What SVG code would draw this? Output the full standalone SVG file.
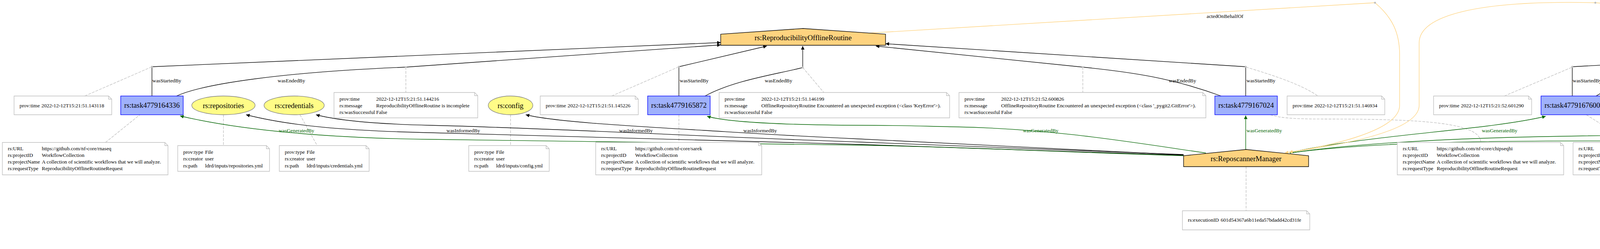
<svg xmlns="http://www.w3.org/2000/svg" width="6606" height="638" viewBox="0 0 6606 638">
<style>
text{font-family:"Liberation Serif","Times New Roman",serif;fill:#000}
.nl{font-size:18.67px;text-anchor:middle}
.t{font-size:13.33px}
.el{font-size:13.33px;text-anchor:middle}
.gl{fill:#006400}
.act{fill:#9FB1FC;stroke:#0000FF;stroke-width:1.33}
.ent{fill:#FFFC87;stroke:#808080;stroke-width:1.33}
.agt{fill:#FED37F;stroke:#000;stroke-width:1.33}
.note{fill:#fff;stroke:#bebebe;stroke-width:1.33}
.fold{fill:none;stroke:#bebebe;stroke-width:1.33}
.e{fill:none;stroke:#000;stroke-width:1.33}
.eg{fill:none;stroke:#006400;stroke-width:1.33}
.eo{fill:none;stroke:#FED37F;stroke-width:1.33}
.ed{fill:none;stroke:#bebebe;stroke-width:1.33;stroke-dasharray:7,3}
.pt{fill:#bebebe}
</style>
<defs>
<marker id="ab" viewBox="0 0 10 10" refX="10" refY="5" markerWidth="13" markerHeight="9" markerUnits="userSpaceOnUse" orient="auto"><path d="M0,0L10,5L0,10z" fill="#000"/></marker>
<marker id="ag" viewBox="0 0 10 10" refX="10" refY="5" markerWidth="13" markerHeight="9" markerUnits="userSpaceOnUse" orient="auto"><path d="M0,0L10,5L0,10z" fill="#006400"/></marker>
<marker id="ao" viewBox="0 0 10 10" refX="10" refY="5" markerWidth="13" markerHeight="9" markerUnits="userSpaceOnUse" orient="auto"><path d="M0,0L10,5L0,10z" fill="#FED37F"/></marker>
</defs>
<rect width="6606" height="638" fill="#fff"/>

<g id="edges">
<path class="ed" d="M217,246L389,171"/>
<path class="ed" d="M270,365L358,294"/>
<path class="ed" d="M572,294L572,373"/>
<path class="ed" d="M768,294L812,373"/>
<path class="ed" d="M1307,294L1307,373"/>
<path class="ed" d="M1039,172L1039,237"/>
<path class="ed" d="M1566,246L1738,171"/>
<path class="ed" d="M1738,294L1738,365"/>
<path class="ed" d="M2055,173L2109,237"/>
<path class="ed" d="M2772,172L2772,237"/>
<path class="ed" d="M3190,172C3250,190 3330,215 3374,246"/>
<path class="ed" d="M3252,294C3280,302 3300,305 3400,305C3650,305 3790,315 3791,365"/>
<path class="ed" d="M3190,427L3190,540"/>
<path class="ed" d="M3851,246L4025,172"/>
<path class="ed" d="M4061,294L4173,365"/>
<path class="ed" d="M4300,246C4360,200 4500,185 4820,172"/>
<path class="ed" d="M4849,172L4762,237"/>
<path class="ed" d="M5138,294L5138,365"/>
<path class="ed" d="M5337,173L5379,237"/>
<path class="ed" d="M5551,431L5551,497"/>
<path class="ed" d="M5786,172L5786,237"/>
<path class="ed" d="M6047,294L6047,365"/>
<path class="ed" d="M6047,172L6230,246"/>
<path class="ed" d="M6429,431L6429,497"/>

<path class="e" d="M389,246V171"/>
<path class="e" d="M389,171L1845,109" marker-end="url(#ab)"/>
<path class="e" d="M452,246C520,215 720,185 1039,172"/>
<path class="e" d="M1039,172L1845,115" marker-end="url(#ab)"/>
<path class="e" d="M1738,246V171"/>
<path class="e" d="M1738,171L1963,118" marker-end="url(#ab)"/>
<path class="e" d="M1805,246C1880,205 1990,190 2055,173"/>
<path class="e" d="M2055,173V118" marker-end="url(#ab)"/>
<path class="e" d="M3189,246V171"/>
<path class="e" d="M3189,171L2267,112" marker-end="url(#ab)"/>
<path class="e" d="M3126,246C3000,200 2900,185 2772,172"/>
<path class="e" d="M2772,172L2242,118" marker-end="url(#ab)"/>
<path class="e" d="M4025,246V171"/>
<path class="e" d="M4025,171L5165,108" marker-end="url(#ab)"/>
<path class="e" d="M4086,246C4098,238 4108,234 4130,231L4849,172"/>
<path class="e" d="M4849,172C4990,168 5170,160 5275,118" marker-end="url(#ab)"/>
<path class="e" d="M5072,246L4820,172"/>
<path class="e" d="M4820,172L5203,118" marker-end="url(#ab)"/>
<path class="e" d="M5181,246C5230,205 5290,185 5337,173"/>
<path class="e" d="M5337,173V118" marker-end="url(#ab)"/>
<path class="e" d="M6047,246V171"/>
<path class="e" d="M6047,171L5506,117" marker-end="url(#ab)"/>
<path class="e" d="M5983,246L5786,172"/>
<path class="e" d="M5786,172L5459,118" marker-end="url(#ab)"/>

<path class="e" d="M3030,398C2700,388 2450,376 2200,370C1800,361 1400,348 1100,340C880,335 740,322 630,294" marker-end="url(#ab)"/>
<path class="e" d="M3030,396C2700,384 2450,372 2200,364C1800,350 1400,328 1100,321C970,318 870,310 809,294" marker-end="url(#ab)"/>
<path class="e" d="M3030,397C2700,380 2450,366 2200,356C2000,347 1900,340 1801,334C1600,322 1420,312 1346,294" marker-end="url(#ab)"/>

<path class="eg" d="M3030,399C2700,389 2450,376 2200,372C1800,366 1400,360 1100,357C850,354 620,335 461,297" marker-end="url(#ag)"/>
<path class="eg" d="M3087,392C2900,365 2700,330 2445,325C2350,323 2300,321 2200,321C1980,320 1860,312 1810,298" marker-end="url(#ag)"/>
<path class="eg" d="M3189,383V296" marker-end="url(#ag)"/>
<path class="eg" d="M3302,391C3500,345 3800,335 3957,298" marker-end="url(#ag)"/>
<path class="eg" d="M3302,392C3600,352 4100,362 4400,362C4700,362 4950,335 5077,298" marker-end="url(#ag)"/>
<path class="eg" d="M3302,392C3600,348 4100,346 4400,346C4900,344 5300,338 5500,338C5800,338 5920,322 5983,298" marker-end="url(#ag)"/>
<path class="eg" d="M5466,387C5380,360 5260,340 5180,297" marker-end="url(#ag)"/>
<path class="eg" d="M6369,384L6120,297" marker-end="url(#ag)"/>

<path class="eo" d="M2221,85L3520,7"/>
<path class="eo" d="M3520,7C3565,45 3583,85 3583,140L3583,270C3583,340 3380,378 3289,392" marker-end="url(#ao)"/>
<path class="eo" d="M5193,85L4084,7"/>
<path class="eo" d="M4084,7C3780,0 3633,40 3633,110L3633,270C3633,340 3410,375 3300,390" marker-end="url(#ao)"/>
<path class="eo" d="M5562,383C5590,310 5590,220 5510,172C5470,148 5440,132 5405,119" marker-end="url(#ao)"/>
<path class="eo" d="M6435,382C6445,300 6440,235 6340,196C6160,130 5720,118 5508,108" marker-end="url(#ao)"/>

<g class="pt">
<circle cx="389" cy="171" r="2.5"/><circle cx="1039" cy="172" r="2.5"/><circle cx="1738" cy="171" r="2.5"/>
<circle cx="2055" cy="173" r="2.5"/><circle cx="2772" cy="172" r="2.5"/><circle cx="3189" cy="171" r="2.5"/>
<circle cx="4025" cy="171" r="2.5"/><circle cx="4820" cy="172" r="2.5"/><circle cx="4849" cy="172" r="2.5"/>
<circle cx="5337" cy="173" r="2.5"/><circle cx="5786" cy="172" r="2.5"/><circle cx="6047" cy="171" r="2.5"/>
<circle cx="3520" cy="7" r="2.5"/><circle cx="4084" cy="7" r="2.5"/>
</g>

<text class="t" x="390" y="210.5">wasStartedBy</text>
<text class="el" x="746" y="210.5">wasEndedBy</text>
<text class="t" x="1740" y="210.5">wasStartedBy</text>
<text class="el" x="1993" y="210.5">wasEndedBy</text>
<text class="el" x="3027" y="210.5">wasEndedBy</text>
<text class="t" x="3191" y="210.5">wasStartedBy</text>
<text class="t" x="4026" y="210.5">wasStartedBy</text>
<text class="el" x="4575" y="210.5">wasEndedBy</text>
<text class="el" x="5003" y="210.5">wasStartedBy</text>
<text class="el" x="5310" y="210.5">wasEndedBy</text>
<text class="el" x="5930" y="210.5">wasEndedBy</text>
<text class="t" x="6048" y="210.5">wasStartedBy</text>
<text class="el" x="1186" y="338.5">wasInformedBy</text>
<text class="el" x="1628" y="338.5">wasInformedBy</text>
<text class="el" x="1946" y="338.5">wasInformedBy</text>
<text class="el gl" x="759" y="338.5">wasGeneratedBy</text>
<text class="el gl" x="2664" y="338.5">wasGeneratedBy</text>
<text class="t gl" x="3191" y="338.5">wasGeneratedBy</text>
<text class="el gl" x="3839" y="338.5">wasGeneratedBy</text>
<text class="el gl" x="4945" y="338.5">wasGeneratedBy</text>
<text class="el gl" x="5316" y="338.5">wasGeneratedBy</text>
<text class="el gl" x="5855" y="338.5">wasGeneratedBy</text>
<text class="el gl" x="6284" y="338.5">wasGeneratedBy</text>
<text class="el" x="3136" y="45.5">actedOnBehalfOf</text>
<text class="el" x="4683" y="45.5">actedOnBehalfOf</text>
<text class="el" x="5595" y="210.5">wasAttributedTo</text>
<text class="el" x="6408" y="210.5">wasAttributedTo</text>
</g>

<g id="ReproducibilityOfflineRoutine"><polygon class="agt" points="2267,116 2267,87.5 2056,73 1845,87.5 1845,116"/><text class="nl" x="2056" y="103">rs:ReproducibilityOfflineRoutine</text></g>
<g id="DummyOfflineRoutine"><polygon class="agt" points="5506,116 5506,87.5 5337,73 5167,87.5 5167,116"/><text class="nl" x="5337" y="103">rs:DummyOfflineRoutine</text></g>
<g id="ReposcannerManager"><polygon class="agt" points="3350,427 3350,399 3190,383 3030,399 3030,427"/><text class="nl" x="3190" y="413">rs:ReposcannerManager</text></g>

<g id="task4779164336"><rect class="act" x="309" y="246" width="160" height="48"/><text class="nl" x="389" y="276">rs:task4779164336</text></g>
<g id="task4779165872"><rect class="act" x="1658" y="246" width="160" height="48"/><text class="nl" x="1738" y="276">rs:task4779165872</text></g>
<g id="task4779167024"><rect class="act" x="3110" y="246" width="160" height="48"/><text class="nl" x="3190" y="276">rs:task4779167024</text></g>
<g id="task4779167600"><rect class="act" x="3945" y="246" width="160" height="48"/><text class="nl" x="4025" y="276">rs:task4779167600</text></g>
<g id="task4779164912"><rect class="act" x="5057" y="246" width="160" height="48"/><text class="nl" x="5137" y="276">rs:task4779164912</text></g>
<g id="task4779166448"><rect class="act" x="5967" y="246" width="160" height="48"/><text class="nl" x="6047" y="276">rs:task4779166448</text></g>

<g id="repositories"><ellipse class="ent" cx="572" cy="270" rx="81" ry="24"/><text class="nl" x="572" y="276.5">rs:repositories</text></g>
<g id="credentials"><ellipse class="ent" cx="753" cy="270" rx="77" ry="24"/><text class="nl" x="753" y="276.5">rs:credentials</text></g>
<g id="config"><ellipse class="ent" cx="1307" cy="270" rx="57" ry="24"/><text class="nl" x="1307" y="276.5">rs:config</text></g>
<g id="dataentity4779402784"><ellipse class="ent" cx="5551" cy="407" rx="134" ry="24"/><text class="nl" x="5551" y="413.5">rs:dataentity:4779402784</text></g>
<g id="dataentity4779405616"><ellipse class="ent" cx="6428" cy="407" rx="135" ry="24"/><text class="nl" x="6428" y="413.5">rs:dataentity:4779405616</text></g>

<g id="ann-s1"><path class="note" d="M36,246H278L286,254V294H36Z"/><path class="fold" d="M278,246V254H286"/><text class="t" x="50" y="274.5">prov:time</text><text class="t" x="106" y="274.5">2022-12-12T15:21:51.143118</text></g>
<g id="ann-s2"><path class="note" d="M1383,246H1626L1634,254V294H1383Z"/><path class="fold" d="M1626,246V254H1634"/><text class="t" x="1397" y="274.5">prov:time</text><text class="t" x="1453" y="274.5">2022-12-12T15:21:51.145226</text></g>
<g id="ann-s3"><path class="note" d="M3295,246H3537L3545,254V294H3295Z"/><path class="fold" d="M3537,246V254H3545"/><text class="t" x="3309" y="274.5">prov:time</text><text class="t" x="3365" y="274.5">2022-12-12T15:21:51.146934</text></g>
<g id="ann-s4"><path class="note" d="M3670,246H3913L3921,254V294H3670Z"/><path class="fold" d="M3913,246V254H3921"/><text class="t" x="3684" y="274.5">prov:time</text><text class="t" x="3740" y="274.5">2022-12-12T15:21:52.601290</text></g>
<g id="ann-s5"><path class="note" d="M4128,246H4370L4378,254V294H4128Z"/><path class="fold" d="M4370,246V254H4378"/><text class="t" x="4142" y="274.5">prov:time</text><text class="t" x="4198" y="274.5">2022-12-12T15:21:51.144299</text></g>
<g id="ann-s6"><path class="note" d="M6151,246H6393L6401,254V294H6151Z"/><path class="fold" d="M6393,246V254H6401"/><text class="t" x="6165" y="274.5">prov:time</text><text class="t" x="6221" y="274.5">2022-12-12T15:21:51.146255</text></g>

<g id="ann-e1"><path class="note" d="M855,237H1215L1223,245V302H855Z"/><path class="fold" d="M1215,237V245H1223"/>
<text class="t" x="869" y="257.5">prov:time</text><text class="t" x="963" y="257.5">2022-12-12T15:21:51.144216</text>
<text class="t" x="869" y="274.8">rs:message</text><text class="t" x="963" y="274.8">ReproducibilityOfflineRoutine is incomplete</text>
<text class="t" x="869" y="292">rs:wasSuccessful</text><text class="t" x="963" y="292">False</text></g>
<g id="ann-e2"><path class="note" d="M1841,237H2423L2431,245V302H1841Z"/><path class="fold" d="M2423,237V245H2431"/>
<text class="t" x="1855" y="257.5">prov:time</text><text class="t" x="1949" y="257.5">2022-12-12T15:21:51.146199</text>
<text class="t" x="1855" y="274.8">rs:message</text><text class="t" x="1949" y="274.8">OfflineRepositoryRoutine Encountered an unexpected exception (&lt;class 'KeyError'&gt;).</text>
<text class="t" x="1855" y="292">rs:wasSuccessful</text><text class="t" x="1949" y="292">False</text></g>
<g id="ann-e3"><path class="note" d="M2455,237H3079L3087,245V302H2455Z"/><path class="fold" d="M3079,237V245H3087"/>
<text class="t" x="2469" y="257.5">prov:time</text><text class="t" x="2563" y="257.5">2022-12-12T15:21:52.600826</text>
<text class="t" x="2469" y="274.8">rs:message</text><text class="t" x="2563" y="274.8">OfflineRepositoryRoutine Encountered an unexpected exception (&lt;class '_pygit2.GitError'&gt;).</text>
<text class="t" x="2469" y="292">rs:wasSuccessful</text><text class="t" x="2563" y="292">False</text></g>
<g id="ann-e4"><path class="note" d="M4403,237H5027L5035,245V302H4403Z"/><path class="fold" d="M5027,237V245H5035"/>
<text class="t" x="4417" y="257.5">prov:time</text><text class="t" x="4511" y="257.5">2022-12-12T15:21:52.975931</text>
<text class="t" x="4417" y="274.8">rs:message</text><text class="t" x="4511" y="274.8">OfflineRepositoryRoutine Encountered an unexpected exception (&lt;class '_pygit2.GitError'&gt;).</text>
<text class="t" x="4417" y="292">rs:wasSuccessful</text><text class="t" x="4511" y="292">False</text></g>
<g id="ann-e5"><path class="note" d="M5240,237H5546L5554,245V302H5240Z"/><path class="fold" d="M5546,237V245H5554"/>
<text class="t" x="5254" y="257.5">prov:time</text><text class="t" x="5348" y="257.5">2022-12-12T15:21:51.145041</text>
<text class="t" x="5254" y="274.8">rs:message</text><text class="t" x="5348" y="274.8">DummyOfflineRoutine completed!</text>
<text class="t" x="5254" y="292">rs:wasSuccessful</text><text class="t" x="5348" y="292">True</text></g>
<g id="ann-e6"><path class="note" d="M5630,237H5935L5943,245V302H5630Z"/><path class="fold" d="M5935,237V245H5943"/>
<text class="t" x="5644" y="257.5">prov:time</text><text class="t" x="5738" y="257.5">2022-12-12T15:21:51.146704</text>
<text class="t" x="5644" y="274.8">rs:message</text><text class="t" x="5738" y="274.8">DummyOfflineRoutine completed!</text>
<text class="t" x="5644" y="292">rs:wasSuccessful</text><text class="t" x="5738" y="292">True</text></g>

<g id="ann-t1"><path class="note" d="M6,365H422L430,373V448H6Z"/><path class="fold" d="M422,365V373H430"/>
<text class="t" x="20" y="384.5">rs:URL</text><text class="t" x="107" y="384.5">https://github.com/nf-core/rnaseq</text>
<text class="t" x="20" y="401.8">rs:projectID</text><text class="t" x="107" y="401.8">WorkflowCollection</text>
<text class="t" x="20" y="419">rs:projectName</text><text class="t" x="107" y="419">A collection of scientific workflows that we will analyze.</text>
<text class="t" x="20" y="436.3">rs:requestType</text><text class="t" x="107" y="436.3">ReproducibilityOfflineRoutineRequest</text></g>
<g id="ann-t2"><path class="note" d="M1525,365H1942L1950,373V448H1525Z"/><path class="fold" d="M1942,365V373H1950"/>
<text class="t" x="1539" y="384.5">rs:URL</text><text class="t" x="1626" y="384.5">https://github.com/nf-core/sarek</text>
<text class="t" x="1539" y="401.8">rs:projectID</text><text class="t" x="1626" y="401.8">WorkflowCollection</text>
<text class="t" x="1539" y="419">rs:projectName</text><text class="t" x="1626" y="419">A collection of scientific workflows that we will analyze.</text>
<text class="t" x="1539" y="436.3">rs:requestType</text><text class="t" x="1626" y="436.3">ReproducibilityOfflineRoutineRequest</text></g>
<g id="ann-t3"><path class="note" d="M3577,365H3995L4003,373V448H3577Z"/><path class="fold" d="M3995,365V373H4003"/>
<text class="t" x="3591" y="384.5">rs:URL</text><text class="t" x="3678" y="384.5">https://github.com/nf-core/chipseqhi</text>
<text class="t" x="3591" y="401.8">rs:projectID</text><text class="t" x="3678" y="401.8">WorkflowCollection</text>
<text class="t" x="3591" y="419">rs:projectName</text><text class="t" x="3678" y="419">A collection of scientific workflows that we will analyze.</text>
<text class="t" x="3591" y="436.3">rs:requestType</text><text class="t" x="3678" y="436.3">ReproducibilityOfflineRoutineRequest</text></g>
<g id="ann-t4"><path class="note" d="M4027,365H4445L4453,373V448H4027Z"/><path class="fold" d="M4445,365V373H4453"/>
<text class="t" x="4041" y="384.5">rs:URL</text><text class="t" x="4128" y="384.5">https://github.com/nf-core/chipseqhi</text>
<text class="t" x="4041" y="401.8">rs:projectID</text><text class="t" x="4128" y="401.8">WorkflowCollection</text>
<text class="t" x="4041" y="419">rs:projectName</text><text class="t" x="4128" y="419">A collection of scientific workflows that we will analyze.</text>
<text class="t" x="4041" y="436.3">rs:requestType</text><text class="t" x="4128" y="436.3">DummyOfflineRoutineRequest</text></g>
<g id="ann-t5"><path class="note" d="M4925,365H5343L5351,373V448H4925Z"/><path class="fold" d="M5343,365V373H5351"/>
<text class="t" x="4939" y="384.5">rs:URL</text><text class="t" x="5026" y="384.5">https://github.com/nf-core/rnaseq</text>
<text class="t" x="4939" y="401.8">rs:projectID</text><text class="t" x="5026" y="401.8">WorkflowCollection</text>
<text class="t" x="4939" y="419">rs:projectName</text><text class="t" x="5026" y="419">A collection of scientific workflows that we will analyze.</text>
<text class="t" x="4939" y="436.3">rs:requestType</text><text class="t" x="5026" y="436.3">DummyOfflineRoutineRequest</text></g>
<g id="ann-t6"><path class="note" d="M5835,365H6252L6260,373V448H5835Z"/><path class="fold" d="M6252,365V373H6260"/>
<text class="t" x="5849" y="384.5">rs:URL</text><text class="t" x="5936" y="384.5">https://github.com/nf-core/sarek</text>
<text class="t" x="5849" y="401.8">rs:projectID</text><text class="t" x="5936" y="401.8">WorkflowCollection</text>
<text class="t" x="5849" y="419">rs:projectName</text><text class="t" x="5936" y="419">A collection of scientific workflows that we will analyze.</text>
<text class="t" x="5849" y="436.3">rs:requestType</text><text class="t" x="5936" y="436.3">DummyOfflineRoutineRequest</text></g>

<g id="ann-repositories"><path class="note" d="M455,373H682L690,381V439H455Z"/><path class="fold" d="M682,373V381H690"/>
<text class="t" x="469" y="394">prov:type</text><text class="t" x="525" y="394">File</text>
<text class="t" x="469" y="411.3">rs:creator</text><text class="t" x="525" y="411.3">user</text>
<text class="t" x="469" y="428.6">rs:path</text><text class="t" x="525" y="428.6">ldrd/inputs/repositories.yml</text></g>
<g id="ann-credentials"><path class="note" d="M715,373H937L945,381V439H715Z"/><path class="fold" d="M937,373V381H945"/>
<text class="t" x="729" y="394">prov:type</text><text class="t" x="785" y="394">File</text>
<text class="t" x="729" y="411.3">rs:creator</text><text class="t" x="785" y="411.3">user</text>
<text class="t" x="729" y="428.6">rs:path</text><text class="t" x="785" y="428.6">ldrd/inputs/credentials.yml</text></g>
<g id="ann-config"><path class="note" d="M1200,373H1398L1406,381V439H1200Z"/><path class="fold" d="M1398,373V381H1406"/>
<text class="t" x="1214" y="394">prov:type</text><text class="t" x="1270" y="394">File</text>
<text class="t" x="1214" y="411.3">rs:creator</text><text class="t" x="1270" y="411.3">user</text>
<text class="t" x="1214" y="428.6">rs:path</text><text class="t" x="1270" y="428.6">ldrd/inputs/config.yml</text></g>

<g id="ann-manager"><path class="note" d="M3027,540H3345L3353,548V589H3027Z"/><path class="fold" d="M3345,540V548H3353"/>
<text class="t" x="3041" y="568">rs:executionID</text><text class="t" x="3125" y="568">601d54367a6b11eda57bdadd42cd31fe</text></g>

<g id="ann-d1"><path class="note" d="M5375,497H5719L5727,505V632H5375Z"/><path class="fold" d="M5719,497V505H5727"/>
<text class="t" x="5389" y="517">prov:type</text><text class="t" x="5473" y="517">File</text>
<text class="t" x="5389" y="534.3">rs:URL</text><text class="t" x="5473" y="534.3">https://github.com/nf-core/rnaseq</text>
<text class="t" x="5389" y="551.6">rs:creator</text><text class="t" x="5473" y="551.6">DummyOfflineRoutine</text>
<text class="t" x="5389" y="568.9">rs:dateCreated</text><text class="t" x="5473" y="568.9">2022-12-12</text>
<text class="t" x="5389" y="586.2">rs:executionID</text><text class="t" x="5473" y="586.2">601d54367a6b11eda57bdadd42cd31fe</text>
<text class="t" x="5389" y="603.5">rs:md5hash</text><text class="t" x="5473" y="603.5">36d55f4f46919be7d2104b6fefa2f0aa</text>
<text class="t" x="5389" y="620.8">rs:path</text><text class="t" x="5473" y="620.8">ldrd/outputs/rnaseq_dummyOfflineData.csv</text></g>
<g id="ann-d2"><path class="note" d="M6257,497H6592L6600,505V632H6257Z"/><path class="fold" d="M6592,497V505H6600"/>
<text class="t" x="6271" y="517">prov:type</text><text class="t" x="6355" y="517">File</text>
<text class="t" x="6271" y="534.3">rs:URL</text><text class="t" x="6355" y="534.3">https://github.com/nf-core/sarek</text>
<text class="t" x="6271" y="551.6">rs:creator</text><text class="t" x="6355" y="551.6">DummyOfflineRoutine</text>
<text class="t" x="6271" y="568.9">rs:dateCreated</text><text class="t" x="6355" y="568.9">2022-12-12</text>
<text class="t" x="6271" y="586.2">rs:executionID</text><text class="t" x="6355" y="586.2">601d54367a6b11eda57bdadd42cd31fe</text>
<text class="t" x="6271" y="603.5">rs:md5hash</text><text class="t" x="6355" y="603.5">35fcb0bf05b97e2197a9194fd8394515</text>
<text class="t" x="6271" y="620.8">rs:path</text><text class="t" x="6355" y="620.8">ldrd/outputs/sarek_dummyOfflineData.csv</text></g>
</svg>
